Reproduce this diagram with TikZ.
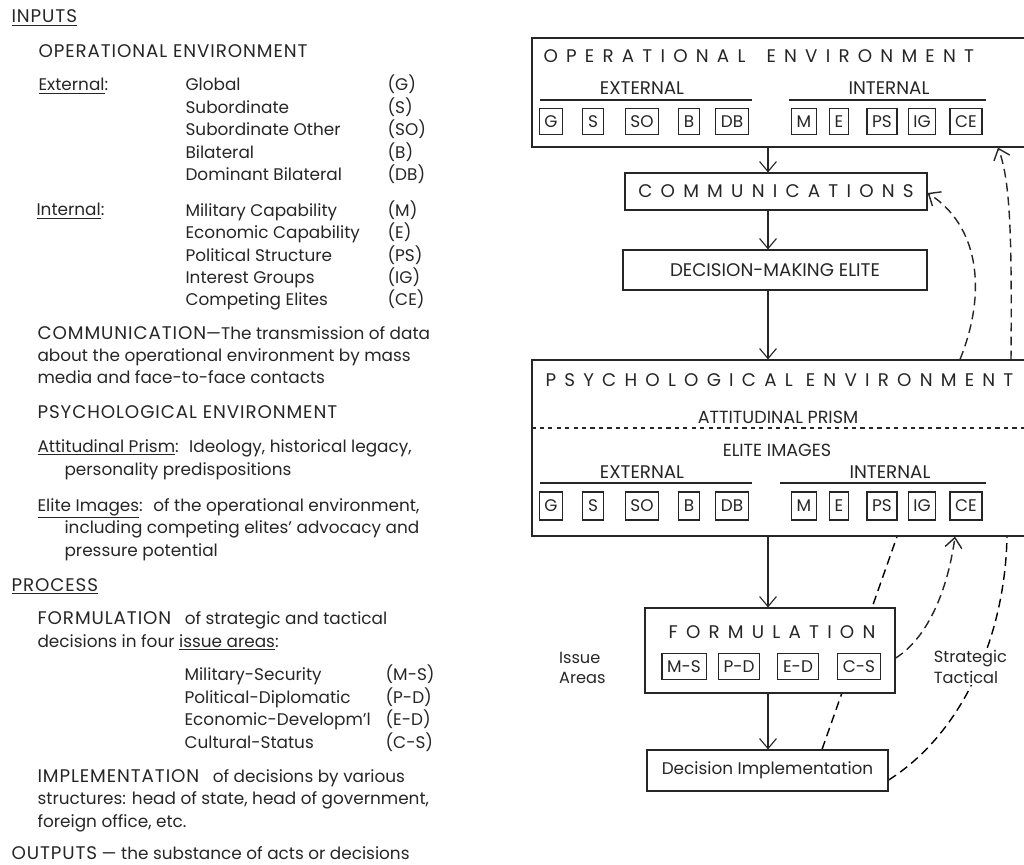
\documentclass[tikz,border=0pt]{standalone}
\usepackage{fontspec}
\setmainfont{Poppins}
\newfontfamily\spacedfont[LetterSpace=45]{Poppins}
\newfontfamily\capsfont[LetterSpace=5]{Poppins}
\usetikzlibrary{arrows.meta, positioning}
\pgfdeclarelayer{background}
\pgfsetlayers{background,main}
\definecolor{ink}{gray}{0.15}
\newcommand{\capword}[1]{{\fontsize{13}{16}\capsfont #1}}

\begin{document}
\begin{tikzpicture}[x=0.025cm, y=-0.025cm, line width=0.8pt, color=ink]

    % Define block styles
    \tikzstyle{txt} = [anchor=base west, inner sep=0, align=left, font=\fontsize{12}{16}\selectfont]
    \tikzstyle{bigbox} = [rectangle, draw, minimum width=12.55cm, inner sep=0]
    \tikzstyle{process} = [rectangle, draw, fill=white, inner sep=0]
    \tikzstyle{codebox} = [rectangle, draw, inner xsep=0.13cm, inner ysep=0, minimum height=0.65cm, font=\fontsize{12}{12}\selectfont]
    \tikzstyle{spaced} = [inner sep=0, font=\fontsize{13}{16}\spacedfont]
    \tikzstyle{sublabel} = [inner sep=0, font=\fontsize{13}{16}\selectfont]
    \tikzstyle{arrow} = [->, >={Straight Barb[length=0.25cm, width=0.42cm]}]
    \tikzstyle{feedback} = [arrow, line width=1pt, dash pattern=on 0.22cm off 0.13cm]

    \useasboundingbox (0,0) rectangle (1024,865);

    % Left column: key to the diagram (nodes sit on the baseline of their last line)
    \node (inputs) [txt] at (11,23) {\underline{\capword{INPUTS}}};
    \node (opHead) [txt] at (38,58) {\capword{OPERATIONAL ENVIRONMENT}};
    \node (extLbl) [txt] at (38,91) {\underline{External}:};
    \node (extList) [txt] at (185,181) {Global\\Subordinate\\Subordinate Other\\Bilateral\\Dominant Bilateral};
    \node (extCodes) [txt] at (387,181) {(G)\\(S)\\(SO)\\(B)\\(DB)};
    \node (intLbl) [txt] at (36,216) {\underline{Internal}:};
    \node (intList) [txt] at (185,306) {Military Capability\\Economic Capability\\Political Structure\\Interest Groups\\Competing Elites};
    \node (intCodes) [txt] at (387,306) {(M)\\(E)\\(PS)\\(IG)\\(CE)};
    \node (commText) [txt] at (37,384) {\capword{COMMUNICATION}---The transmission of data\\about the operational environment by mass\\media and face-to-face contacts};
    \node (psyHead) [txt] at (37,418) {\capword{PSYCHOLOGICAL ENVIRONMENT}};
    \node (prismText) [txt] at (37,475) {\underline{Attitudinal Prism}: \ Ideology, historical legacy,\\\hspace*{0.675cm}personality predispositions};
    \node (imagesText) [txt] at (37,556) {\underline{Elite Images}: \ of the operational environment,\\\hspace*{0.675cm}including competing elites' advocacy and\\\hspace*{0.675cm}pressure potential};
    \node (process) [txt] at (11,591) {\underline{\capword{PROCESS}}};
    \node (formText) [txt] at (37,647) {\capword{FORMULATION}\ \ \ of strategic and tactical\\decisions in four \underline{issue areas}:};
    \node (areaList) [txt] at (184,748) {Military-Security\\Political-Diplomatic\\Economic-Developm'l\\Cultural-Status};
    \node (areaCodes) [txt] at (385,748) {(M-S)\\(P-D)\\(E-D)\\(C-S)};
    \node (implText) [txt] at (37,827) {\capword{IMPLEMENTATION}\ \ \ of decisions by various\\structures: head of state, head of government,\\foreign office, etc.};
    \node (outputs) [txt] at (11,859) {\capword{OUTPUTS} --- the substance of acts or decisions};

    % Right column: the flow diagram
    \coordinate (axis) at (768,0);

    \node (opEnv) [bigbox, minimum height=2.725cm] at (783,92.5) {};
    \node (opTitle) [spaced, anchor=west] at (543,56) {OPERATIONAL\hspace{0.2cm} ENVIRONMENT};
    \node (opExt) [sublabel] at (642,88) {EXTERNAL};
    \node (opInt) [sublabel] at (889,88) {INTERNAL};
    \draw (540,100) -- (752,100);
    \draw (789,100) -- (986,100);
    \foreach \code/\xpos in {G/551, S/593, SO/642, B/689, DB/732, M/804, E/839, PS/882, IG/922, CE/966}
        \node (op\code) [codebox] at (\xpos,121.5) {\code};

    \node (comm) [process, minimum width=7.55cm, minimum height=0.925cm, font=\fontsize{13}{16}\spacedfont] at (776,191.5) {COMMUNICATIONS};
    \node (elite) [process, minimum width=7.6cm, minimum height=1cm, font=\fontsize{13}{16}\selectfont] at (775,270) {DECISION-MAKING ELITE};

    \node (psyEnv) [bigbox, minimum height=4.4cm] at (783,448) {};
    \node (psyTitle) [spaced, anchor=west] at (545,380) {PSYCHOLOGICAL ENVIRONMENT};
    \node (prism) [sublabel, font=\fontsize{12.5}{15}\selectfont] at (778,417) {ATTITUDINAL PRISM};
    \draw [dashed] (psyEnv.west |- 0,428) -- (1024,428);
    \node (images) [sublabel, font=\fontsize{12.5}{15}\selectfont] at (777,450) {ELITE IMAGES};
    \node (psyExt) [sublabel] at (642,472) {EXTERNAL};
    \node (psyInt) [sublabel] at (890,472) {INTERNAL};
    \draw (540,483) -- (752,483);
    \draw (780,483) -- (986,483);
    \foreach \code/\xpos in {G/551, S/593, SO/642, B/689, DB/732, M/804, E/839, PS/882, IG/922, CE/966}
        \node (psy\code) [codebox, minimum height=0.7cm] at (\xpos,506) {\code};

    \node (form) [process, minimum width=6.25cm, minimum height=2.125cm] at (770,650.5) {};
    \node (formTitle) [spaced] at (772,632) {FORMULATION};
    \foreach \code/\xpos [count=\i] in {M-S/684, P-D/739, E-D/798, C-S/859}
        \node (area\i) [codebox] at (\xpos,666.5) {\code};

    \node (impl) [process, minimum width=6.025cm, minimum height=1.025cm, font=\fontsize{12}{14}\selectfont] at (767.5,770.5) {Decision Implementation};

    \node (issue) [anchor=east, align=left, inner sep=0, font=\fontsize{11.5}{14.5}\selectfont] at (606,668) {Issue\\Areas};
    \node (strat) [anchor=west, align=left, inner sep=1pt, fill=white, font=\fontsize{11.5}{14.5}\selectfont] at (932,667) {Strategic\\Tactical};

    % Draw arrows
    \draw [arrow] (opEnv.south -| axis) -- (comm.north -| axis);
    \draw [arrow] (comm.south -| axis) -- (elite.north -| axis);
    \draw [arrow] (elite.south -| axis) -- (psyEnv.north -| axis);
    \draw [arrow] (psyEnv.south -| axis) -- (form.north -| axis);
    \draw [arrow] (form.south -| axis) -- (impl.north -| axis);

    % Feedback loops
    \draw [feedback] (psyEnv.north -| 960,0) .. controls (988,290) and (978,225) .. (comm.east |- 0,193);
    \draw [feedback] (psyEnv.north -| 1011,0) .. controls (1012,230) and (1010,180) .. (opEnv.south -| 998,0);
    \begin{pgfonlayer}{background}
        \draw [feedback, -] (impl.north -| 822,0) -- (psyEnv.south -| 897,0);
        \draw [feedback, -] (impl.east |- 0,780) .. controls (960,735) and (1005,640) .. (psyEnv.south -| 1007,0);
    \end{pgfonlayer}
    \draw [feedback] (form.east |- 0,658) .. controls (925,640) and (947,595) .. (psyEnv.south -| 955,0);

\end{tikzpicture}
\end{document}
